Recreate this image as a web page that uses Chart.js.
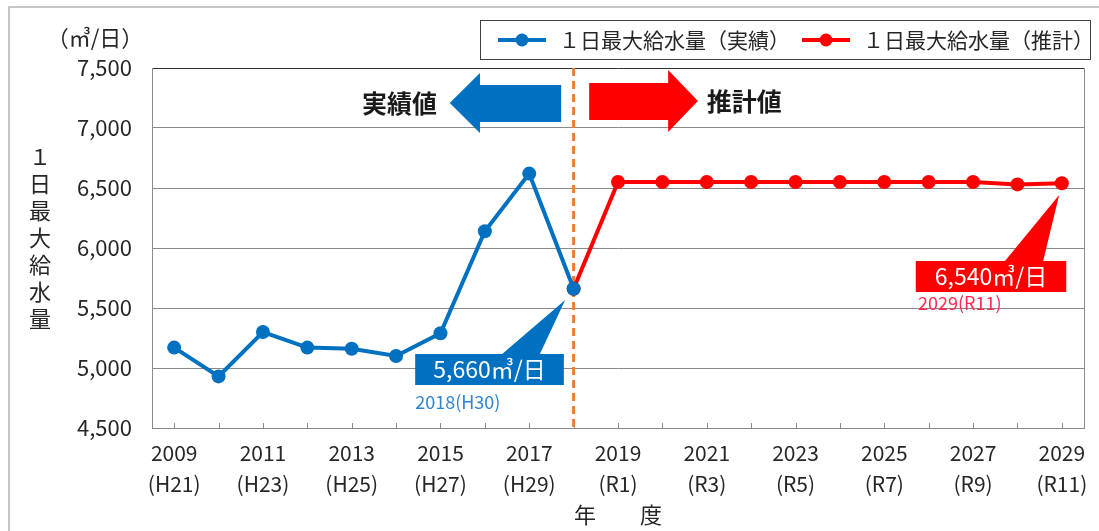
<!DOCTYPE html>
<html>
<head>
<meta charset="utf-8">
<script src="https://cdn.jsdelivr.net/npm/chart.js@4.4.1/dist/chart.umd.min.js"></script>
<style>
  html, body { margin: 0; background: #fff; }
  #wrap { width: 1099px; height: 531px; }
</style>
</head>
<body>
<div id="wrap"><canvas id="waterChart"></canvas></div>
<script>
// data
const years = ['2009', '2010', '2011', '2012', '2013', '2014', '2015', '2016', '2017', '2018',
               '2019', '2020', '2021', '2022', '2023', '2024', '2025', '2026', '2027', '2028', '2029'];
const eras = ['(H21)', '(H22)', '(H23)', '(H24)', '(H25)', '(H26)', '(H27)', '(H28)', '(H29)', '(H30)',
              '(R1)', '(R2)', '(R3)', '(R4)', '(R5)', '(R6)', '(R7)', '(R8)', '(R9)', '(R10)', '(R11)'];
const actual = [5170, 4930, 5300, 5170, 5160, 5100, 5290, 6140, 6620, 5660,
                null, null, null, null, null, null, null, null, null, null, null];
const forecast = [null, null, null, null, null, null, null, null, null, 5660,
                  6550, 6550, 6550, 6550, 6550, 6550, 6550, 6550, 6550, 6530, 6540];
const seriesNames = ['１日最大給水量（実績）', '１日最大給水量（推計）'];
const yMin = 4500, yMax = 7500, yStep = 500;

const FONT = '"Noto Sans CJK JP", "Noto Sans", sans-serif';
const BLUE = '#0070c0';
const RED = '#ff0000';

// helper: polygon given in (category index, value) pairs
function poly(ctx, xs, ys, pts, color) {
    ctx.beginPath();
    pts.forEach(([i, v], k) => {
        const px = xs.getPixelForValue(i), py = ys.getPixelForValue(v);
        if (k === 0) ctx.moveTo(px, py); else ctx.lineTo(px, py);
    });
    ctx.closePath();
    ctx.fillStyle = color;
    ctx.fill();
}

const annotations = {
    id: 'annotations',
    beforeDraw(chart) {
        const ctx = chart.ctx;
        ctx.save();
        ctx.fillStyle = '#fff';
        ctx.fillRect(0, 0, chart.width, chart.height);
        // outer frame of the original figure
        ctx.strokeStyle = '#b4b4b4';
        ctx.lineWidth = 1.5;
        ctx.beginPath();
        ctx.moveTo(9, chart.height);
        ctx.lineTo(9, 7);
        ctx.lineTo(chart.width, 7);
        ctx.stroke();
        ctx.restore();
    },
    beforeDatasetsDraw(chart) {
        const ctx = chart.ctx, xs = chart.scales.x, ys = chart.scales.y, a = chart.chartArea;
        ctx.save();
        // right border
        ctx.strokeStyle = '#8a8a8a';
        ctx.lineWidth = 1;
        ctx.beginPath();
        ctx.moveTo(a.right + 0.5, a.top);
        ctx.lineTo(a.right + 0.5, a.bottom);
        ctx.stroke();
        // small tick marks at the categories
        years.forEach((y, i) => {
            const px = Math.round(xs.getPixelForValue(i)) + 0.5;
            ctx.beginPath();
            ctx.moveTo(px, a.bottom);
            ctx.lineTo(px, a.bottom - 5);
            ctx.stroke();
        });
        // dashed divider at 2018
        const dx = xs.getPixelForValue(9);
        ctx.strokeStyle = '#ed7d31';
        ctx.lineWidth = 3;
        ctx.setLineDash([8, 5]);
        ctx.beginPath();
        ctx.moveTo(dx, a.top);
        ctx.lineTo(dx, a.bottom);
        ctx.stroke();
        ctx.setLineDash([]);

        // arrows
        poly(ctx, xs, ys, [[6.21, 7208], [6.89, 7458], [6.89, 7358], [8.72, 7358],
                           [8.72, 7050], [6.89, 7050], [6.89, 6958]], BLUE);
        poly(ctx, xs, ys, [[11.80, 7225], [11.13, 7483], [11.13, 7375], [9.35, 7375],
                           [9.35, 7067], [11.13, 7067], [11.13, 6967]], RED);
        ctx.fillStyle = '#1a1a1a';
        ctx.font = 'bold 25px ' + FONT;
        ctx.textBaseline = 'middle';
        ctx.textAlign = 'right';
        ctx.fillText('実績値', xs.getPixelForValue(5.92), ys.getPixelForValue(7208));
        ctx.textAlign = 'left';
        ctx.fillText('推計値', xs.getPixelForValue(12.0), ys.getPixelForValue(7225));

        // callouts
        poly(ctx, xs, ys, [[5.43, 5117], [7.39, 5117], [8.81, 5567], [8.24, 5117],
                           [8.78, 5117], [8.78, 4858], [5.43, 4858]], BLUE);
        poly(ctx, xs, ys, [[16.71, 5892], [18.72, 5892], [19.94, 6442], [19.58, 5892],
                           [20.10, 5892], [20.10, 5633], [16.71, 5633]], RED);
        ctx.fillStyle = '#fff';
        ctx.font = '23px ' + FONT;
        ctx.textAlign = 'center';
        ctx.fillText('5,660㎥/日', (xs.getPixelForValue(5.43) + xs.getPixelForValue(8.78)) / 2,
                     ys.getPixelForValue(4988));
        ctx.fillText('6,540㎥/日', (xs.getPixelForValue(16.71) + xs.getPixelForValue(20.10)) / 2,
                     ys.getPixelForValue(5763));
        ctx.font = '18px ' + FONT;
        ctx.textAlign = 'left';
        ctx.fillStyle = '#2f86d0';
        ctx.fillText('2018(H30)', xs.getPixelForValue(5.43), ys.getPixelForValue(4717));
        ctx.fillStyle = '#ff2a50';
        ctx.fillText('2029(R11)', xs.getPixelForValue(16.76), ys.getPixelForValue(5542));
        ctx.restore();
    },
    afterDraw(chart) {
        const ctx = chart.ctx;
        ctx.save();
        ctx.fillStyle = '#262626';
        ctx.textBaseline = 'middle';
        ctx.textAlign = 'center';
        // unit
        ctx.font = '22px ' + FONT;
        ctx.fillText('（㎥/日）', 95, 38);
        // vertical y title
        const yTitle = '１日最大給水量';
        [...yTitle].forEach((ch, k) => ctx.fillText(ch, 40, 157 + k * 27));
        // x title
        ctx.fillText('年　　度', 618, 515);

        // legend
        ctx.strokeStyle = '#404040';
        ctx.lineWidth = 1;
        ctx.strokeRect(480.5, 20.5, 610, 39);
        ctx.font = '21px ' + FONT;
        ctx.textAlign = 'left';
        let x = 498;
        const ly = 40;
        chart.data.datasets.forEach(ds => {
            ctx.strokeStyle = ds.borderColor;
            ctx.lineWidth = 4;
            ctx.beginPath();
            ctx.moveTo(x, ly);
            ctx.lineTo(x + 48, ly);
            ctx.stroke();
            ctx.fillStyle = ds.borderColor;
            ctx.beginPath();
            ctx.arc(x + 24, ly, 6.5, 0, Math.PI * 2);
            ctx.fill();
            ctx.fillStyle = '#262626';
            ctx.fillText(ds.label, x + 61, ly);
            x += 61 + ctx.measureText(ds.label).width + 12;
        });
        ctx.restore();
    }
};

new Chart(document.getElementById('waterChart'), {
    type: 'line',
    data: {
        labels: years,
        datasets: [
            {
                label: seriesNames[0],
                data: actual,
                borderColor: BLUE,
                backgroundColor: BLUE,
                borderWidth: 4,
                pointRadius: 7,
                pointHoverRadius: 7,
                pointBorderWidth: 0
            },
            {
                label: seriesNames[1],
                data: forecast,
                borderColor: RED,
                backgroundColor: RED,
                borderWidth: 4,
                pointRadius: 7,
                pointHoverRadius: 7,
                pointBorderWidth: 0
            }
        ]
    },
    options: {
        responsive: true,
        maintainAspectRatio: false,
        animation: false,
        devicePixelRatio: 1,
        layout: { padding: { top: 68, right: 15, left: 0, bottom: 0 } },
        scales: {
            x: {
                offset: true,
                grid: { display: false },
                border: { display: true, color: '#8a8a8a', width: 1 },
                ticks: {
                    autoSkip: false,
                    maxRotation: 0,
                    padding: 1,
                    color: '#262626',
                    font: { family: FONT, size: 21, lineHeight: 1.5 },
                    callback: (val, i) => i % 2 === 0 ? [years[i], eras[i]] : ''
                },
                afterFit: scale => { scale.height = 103; }
            },
            y: {
                min: yMin,
                max: yMax,
                grid: {
                    drawTicks: false,
                    color: ctx => ctx.tick && ctx.tick.value === yMax ? '#333' : '#8a8a8a'
                },
                border: { display: true, color: '#8a8a8a', width: 1 },
                ticks: {
                    stepSize: yStep,
                    padding: 20,
                    color: '#262626',
                    font: { family: FONT, size: 22 },
                    callback: v => v.toLocaleString('en-US')
                },
                afterFit: scale => { scale.width = 152; }
            }
        },
        plugins: {
            legend: { display: false },
            tooltip: { enabled: false }
        }
    },
    plugins: [annotations]
});
</script>
</body>
</html>
